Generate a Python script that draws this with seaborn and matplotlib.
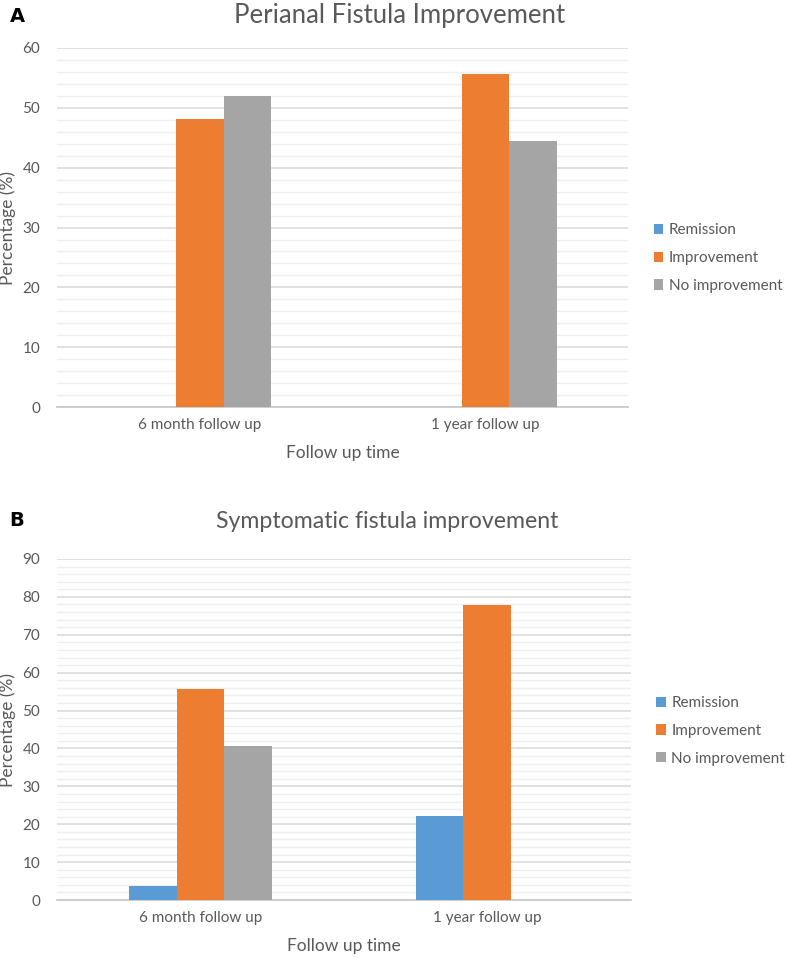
import matplotlib.pyplot as plt
import pandas as pd
import seaborn as sns
from matplotlib.ticker import MultipleLocator

# data
timepoints = ["6 month follow up", "1 year follow up"]
outcomes = ["Remission", "Improvement", "No improvement"]
perianal_remission = [0.0, 0.0]
perianal_improvement = [48.1, 55.6]
perianal_no_improvement = [51.9, 44.4]
sympt_remission = [3.7, 22.2]
sympt_improvement = [55.6, 77.8]
sympt_no_improvement = [40.7, 0.0]

colors = ["#5b9bd5", "#ed7d31", "#a5a5a5"]
text_gray = "#595959"


def to_long(rem, imp, noimp):
    rows = []
    for name, vals in zip(outcomes, [rem, imp, noimp]):
        for t, v in zip(timepoints, vals):
            rows.append({"time": t, "outcome": name, "pct": v})
    return pd.DataFrame(rows)


sns.set_theme(style="white")
plt.rcParams["font.family"] = ["Lato", "DejaVu Sans"]

fig = plt.figure(figsize=(7.87, 9.58), dpi=100)
ax_a = fig.add_axes([0.0724, 0.575, 0.726, 0.375])
ax_b = fig.add_axes([0.0724, 0.0605, 0.729, 0.356])


def draw_panel(ax, df, title, ymax, legend_y, title_x, title_size, title_pad):
    sns.barplot(data=df, x="time", y="pct", hue="outcome", hue_order=outcomes,
                palette=colors, width=0.5, ax=ax, saturation=1, errorbar=None,
                linewidth=0, edgecolor="none", zorder=3)
    ax.set_xlim(-0.5, 1.5)
    ax.set_ylim(0, ymax)
    ax.yaxis.set_major_locator(MultipleLocator(10))
    ax.yaxis.set_minor_locator(MultipleLocator(2))
    ax.grid(axis="y", which="major", color="#d9d9d9", linewidth=1.1, zorder=0)
    ax.grid(axis="y", which="minor", color="#efefef", linewidth=1.0, zorder=0)
    ax.set_axisbelow(True)
    for s in ["top", "right", "left"]:
        ax.spines[s].set_visible(False)
    ax.spines["bottom"].set_color("#c8c8c8")
    ax.tick_params(axis="both", which="both", length=0, labelsize=11,
                   labelcolor=text_gray)
    ax.tick_params(axis="x", pad=8)
    ax.tick_params(axis="y", pad=12)
    # title is centred over the whole chart area (plot + legend), as in Excel
    ax.set_title(title, fontsize=title_size, color=text_gray, pad=title_pad,
                 x=title_x)
    ax.set_xlabel("Follow up time", fontsize=12.5, color=text_gray, labelpad=9)
    ax.set_ylabel("Percentage (%)", fontsize=12.5, color=text_gray)
    ax.yaxis.set_label_coords(-0.072, 0.5)
    ax.legend(loc="center left", bbox_to_anchor=(1.02, legend_y), frameon=False,
              fontsize=11, labelcolor=text_gray, handlelength=0.65,
              handleheight=0.65, handletextpad=0.35, labelspacing=0.9)


draw_panel(ax_a, to_long(perianal_remission, perianal_improvement, perianal_no_improvement),
           "Perianal Fistula Improvement", 60, 0.415, 0.60, 18.5, 18)
draw_panel(ax_b, to_long(sympt_remission, sympt_improvement, sympt_no_improvement),
           "Symptomatic fistula improvement", 90, 0.496, 0.575, 16.7, 22)

fig.text(0.012, 0.993, "A", fontsize=14, fontweight="bold", color="black",
         va="top", family="DejaVu Sans")
fig.text(0.012, 0.467, "B", fontsize=14, fontweight="bold", color="black",
         va="top", family="DejaVu Sans")

fig.savefig("out.png", dpi=100)
